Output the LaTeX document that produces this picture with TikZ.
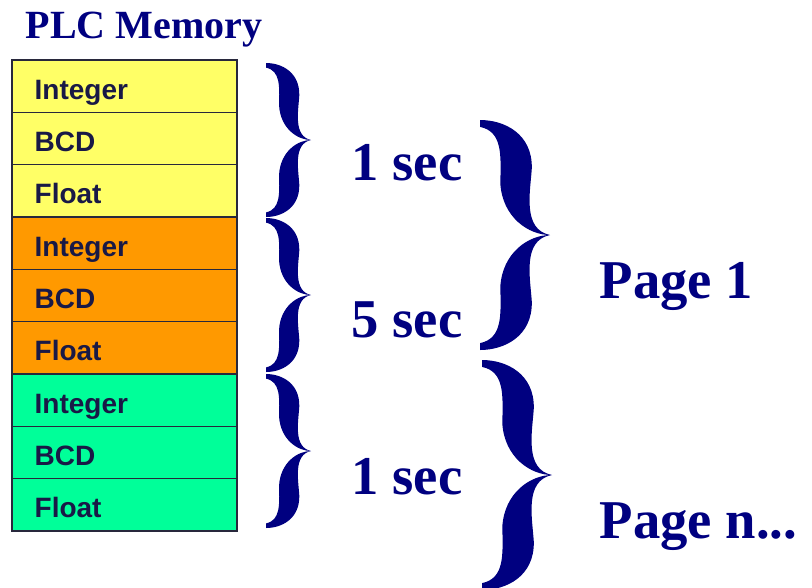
\documentclass[tikz,border=0pt]{standalone}
\usepackage{fontspec}
\setmainfont{Liberation Serif}
\setsansfont{Liberation Sans}
\usepackage{xcolor}
\usetikzlibrary{positioning}
\definecolor{memnavy}{RGB}{0,0,128}
\definecolor{celltext}{RGB}{25,25,70}
\definecolor{cellline}{RGB}{40,40,60}
\definecolor{cellyellow}{RGB}{255,255,102}
\definecolor{cellorange}{RGB}{255,153,0}
\definecolor{cellgreen}{RGB}{0,255,153}

\begin{document}
\begin{tikzpicture}[x=0.75pt,y=-0.75pt,
  cell/.style={draw=cellline,line width=.9pt,outer sep=0pt,minimum width=168.75pt,minimum height=39.25pt,
    inner xsep=17pt,inner ysep=0pt,text width=134.75pt,align=left,
    text height=19.5pt,text depth=0pt,text=celltext,
    font=\sffamily\bfseries\fontsize{21}{21}\selectfont},
  bigtext/.style={anchor=base west,text=memnavy,font=\bfseries\fontsize{41}{41}\selectfont},
  bigbrace/.pic={
    \fill[memnavy] (0,0) .. controls (0.35,0) and (0.75,0.12) .. (0.74,0.42)
      .. controls (0.72,0.62) and (0.6,0.95) .. (1,1)
      .. controls (0.6,1.05) and (0.72,1.38) .. (0.74,1.58)
      .. controls (0.75,1.88) and (0.35,2) .. (0,2) -- (0,1.94)
      .. controls (0.32,1.9) and (0.3,1.7) .. (0.29,1.45)
      .. controls (0.32,1.15) and (0.7,1) .. (1,1)
      .. controls (0.7,1) and (0.32,0.85) .. (0.29,0.55)
      .. controls (0.3,0.3) and (0.32,0.1) .. (0,0.06) -- cycle;
  },
  secbrace/.style={xscale=45,yscale=77},
  pagebrace/.style={xscale=70,yscale=115}]
\useasboundingbox (0,0) rectangle (812,587);
\node[anchor=base west,text=memnavy,font=\bfseries\fontsize{30}{30}\selectfont] (title) at (21,38) {PLC Memory};
% memory cells
\node[cell,fill=cellyellow,anchor=north west] (c1) at (12,60) {Integer};
\node[cell,fill=cellyellow,below=0pt of c1] (c2) {BCD};
\node[cell,fill=cellyellow,below=0pt of c2] (c3) {Float};
\node[cell,fill=cellorange,below=0pt of c3] (c4) {Integer};
\node[cell,fill=cellorange,below=0pt of c4] (c5) {BCD};
\node[cell,fill=cellorange,below=0pt of c5] (c6) {Float};
\node[cell,fill=cellgreen,below=0pt of c6] (c7) {Integer};
\node[cell,fill=cellgreen,below=0pt of c7] (c8) {BCD};
\node[cell,fill=cellgreen,below=0pt of c8] (c9) {Float};
% scan rates
\coordinate (r1) at (266,63);
\coordinate (r2) at (266,218);
\coordinate (r3) at (266,374);
\pic[secbrace] at (r1) {bigbrace};
\pic[secbrace] at (r2) {bigbrace};
\pic[secbrace] at (r3) {bigbrace};
\node[bigtext] (sec1) at (347,180) {1 sec};
\node[bigtext] (sec2) at (347,337) {5 sec};
\node[bigtext] (sec3) at (347,494) {1 sec};
% pages
\coordinate (p1) at (480,120);
\coordinate (p2) at (482,360);
\pic[pagebrace] at (p1) {bigbrace};
\pic[pagebrace] at (p2) {bigbrace};
\node[bigtext] (page1) at (595,298) {Page 1};
\node[bigtext] (pagen) at (595,538) {Page n...};
\end{tikzpicture}
\end{document}
